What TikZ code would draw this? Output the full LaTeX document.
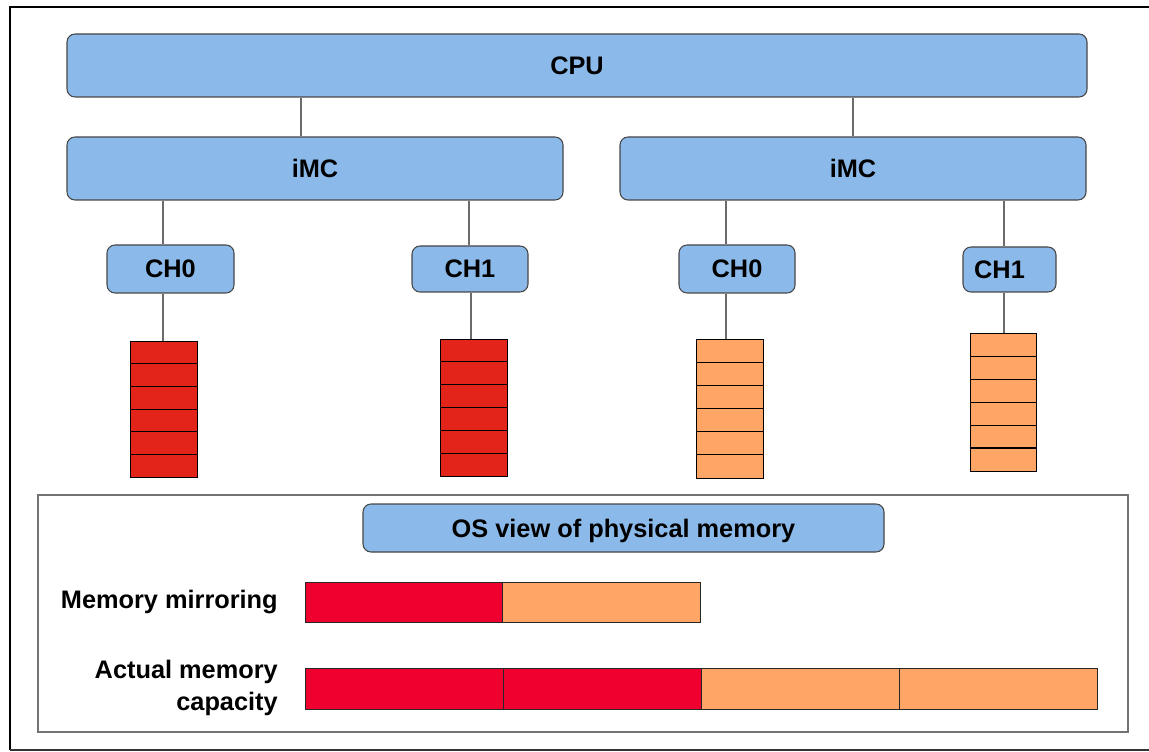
\documentclass[tikz,border=0pt]{standalone}
\usepackage{fontspec}
\setmainfont{Liberation Sans}
\definecolor{boxblue}{RGB}{139,186,234}
\definecolor{stackred}{RGB}{226,36,27}
\definecolor{memorange}{RGB}{255,166,102}
\definecolor{barred}{RGB}{240,0,46}
\definecolor{edgegray}{RGB}{70,70,70}
\tikzset{
  bluebox/.style={draw=edgegray, line width=0.8pt, fill=boxblue, rounded corners=6pt, inner sep=0pt,
    font=\fontsize{19}{23}\selectfont\bfseries},
  link/.style={draw=edgegray!80, line width=0.9pt},
  redcell/.style={draw=black, line width=0.7pt, fill=stackred, inner sep=0pt, minimum width=50.25pt},
  orcell/.style={draw=black, line width=0.7pt, fill=memorange, inner sep=0pt, minimum width=50.25pt},
  redbar/.style={draw=black!85, line width=0.7pt, fill=barred, inner sep=0pt},
  orbar/.style={draw=black!85, line width=0.7pt, fill=memorange, inner sep=0pt},
  lbl/.style={font=\fontsize{19}{24}\selectfont\bfseries, inner sep=0pt, align=right, anchor=east}
}
\begin{document}
\begin{tikzpicture}[x=0.75pt,y=-0.75pt]
\useasboundingbox (0,0) rectangle (1149,752);
% outer frame
\draw[line width=1.6pt, black] (1149,7) -- (10,7) -- (10,750);
\draw[line width=1pt, black!80] (10,750) -- (1149,750);
% lower panel
\draw[line width=1pt, black!55] (38,495) rectangle (1128,732);

% top boxes
\node[bluebox, minimum width=765pt, minimum height=47.25pt] (cpu) at (577,65.5) {CPU};
\node[bluebox, minimum width=372pt, minimum height=47.25pt] (imcL) at (315,168.5) {iMC};
\node[bluebox, minimum width=349.5pt, minimum height=47.25pt] (imcR) at (853,168.5) {iMC};
\node[bluebox, minimum width=95.25pt, minimum height=36pt] (chL0) at (170.5,269) {CH0};
\node[bluebox, minimum width=87pt, minimum height=34.5pt] (chL1) at (470,269) {CH1};
\node[bluebox, minimum width=87pt, minimum height=36pt] (chR0) at (737,269) {CH0};
\node[bluebox, minimum width=69.75pt, minimum height=33.75pt] (chR1) at (1009.5,269.5) {CH1\hspace*{15pt}};

% connectors cpu -> imc
\coordinate (jL) at (301,0);
\coordinate (jR) at (853,0);
\draw[link] (cpu.south -| jL) -- (imcL.north -| jL);
\draw[link] (cpu.south -| jR) -- (imcR.north -| jR);

% memory stacks
\foreach \i in {0,...,5} {
  \node[redcell, minimum height={136*0.75pt/6}] (sa\i) at (163.5,{341+136/12+\i*136/6}) {};
  \node[redcell, minimum height={137*0.75pt/6}] (sb\i) at (473.5,{339+137/12+\i*137/6}) {};
  \node[orcell, minimum height={139*0.75pt/6}] (sc\i) at (729.5,{339+139/12+\i*139/6}) {};
  \node[orcell, minimum height={138*0.75pt/6}, minimum width=49.5pt] (sd\i) at (1003,{333+138/12+\i*138/6}) {};
}
\draw[line width=1.4pt, black] (sd5.north west) -- (sd5.north east);

% connectors imc -> ch, ch -> stack
\coordinate (kA) at (163,0);
\coordinate (kB) at (469,0);
\coordinate (kB2) at (471,0);
\coordinate (kC) at (726,0);
\coordinate (kD) at (1004,0);
\draw[link] (imcL.south -| kA) -- (chL0.north -| kA);
\draw[link] (imcL.south -| kB) -- (chL1.north -| kB);
\draw[link] (imcR.south -| kC) -- (chR0.north -| kC);
\draw[link] (imcR.south -| kD) -- (chR1.north -| kD);
\draw[link] (chL0.south -| kA) -- (sa0.north -| kA);
\draw[link] (chL1.south -| kB2) -- (sb0.north -| kB2);
\draw[link] (chR0.south -| kC) -- (sc0.north -| kC);
\draw[link] (chR1.south -| kD) -- (sd0.north -| kD);

% OS view
\node[bluebox, minimum width=390.75pt, minimum height=36pt, text depth=0pt] (os) at (623.5,528) {OS view of physical memory};

\node[lbl] (lmir) at (278,602) {Memory mirroring};
\node[lbl] (lact) at (278,688) {Actual memory\\capacity};

\node[redbar, minimum width=147.75pt, minimum height=30pt] (m1) at (403.5,602) {};
\node[orbar, minimum width=148.5pt, minimum height=30pt] (m2) at (601,602) {};

\node[redbar, minimum width=148.5pt, minimum height=30.75pt] (a1) at (404,688.5) {};
\node[redbar, minimum width=148.5pt, minimum height=30.75pt] (a2) at (602,688.5) {};
\node[orbar, minimum width=148.5pt, minimum height=30.75pt] (a3) at (800,688.5) {};
\node[orbar, minimum width=148.5pt, minimum height=30.75pt] (a4) at (998,688.5) {};
\end{tikzpicture}
\end{document}
